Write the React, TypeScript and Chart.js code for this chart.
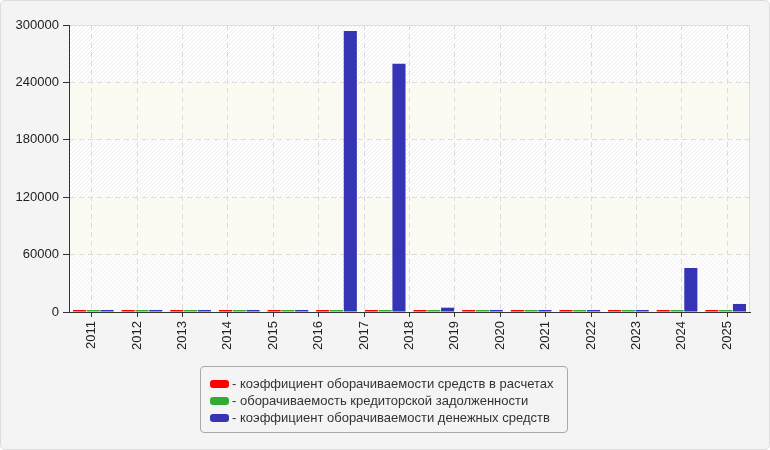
import React, { useEffect, useRef } from "react";
import { Chart, registerables } from "chart.js";

Chart.register(...registerables);

// Tick labels shown on the x axis (15 labels)
const years = ["2011", "2012", "2013", "2014", "2015", "2016", "2017", "2018", "2019", "2020", "2021", "2022", "2023", "2024", "2025"];
// Bar groups actually drawn (14 groups spread over the full width)
const barPeriods = ["2011", "2012", "2013", "2014", "2015", "2016", "2017", "2018", "2019", "2020", "2021", "2022", "2023", "2024"];
const receivablesTurnover = [9, 8, 10, 9, 8, 9, 7, 8, 9, 8, 9, 10, 8, 9];
const payablesTurnover = [7, 8, 7, 8, 9, 7, 8, 7, 8, 9, 7, 8, 7, 8];
const cashTurnover = [600, 500, 700, 400, 300, 293700, 259600, 4500, 2100, 900, 800, 700, 46000, 8400];
const yTicks = [0, 60000, 120000, 180000, 240000, 300000];

const seriesLabels = [
  "коэффициент оборачиваемости средств в расчетах",
  "оборачиваемость кредиторской задолженности",
  "коэффициент оборачиваемости денежных средств",
];
const seriesColors = ["#ff0000", "#33aa33", "#3434b4"];

const FONT = 'Arial, "Liberation Sans", sans-serif';

const bandsPlugin = {
  id: "bands",
  beforeDraw(chart: any) {
    const { ctx, chartArea, scales } = chart;
    const y = scales.y;
    const { left, right, top, bottom } = chartArea;
    ctx.save();
    for (let i = 0; i < yTicks.length - 1; i++) {
      const yb = y.getPixelForValue(yTicks[i]);
      const yt = y.getPixelForValue(yTicks[i + 1]);
      const h = yb - yt;
      ctx.save();
      ctx.beginPath();
      ctx.rect(left, yt, right - left, h);
      ctx.clip();
      const hatched = i % 2 === 0;
      ctx.fillStyle = hatched ? "#ffffff" : "#fcfcf4";
      ctx.fillRect(left, yt, right - left, h);
      ctx.strokeStyle = hatched ? "#ececec" : "#f6f6ec";
      ctx.lineWidth = 1;
      ctx.beginPath();
      for (let k = -h; k < right - left + h; k += 4) {
        ctx.moveTo(left + k, yb);
        ctx.lineTo(left + k + h, yt);
      }
      ctx.stroke();
      ctx.restore();
    }
    ctx.strokeStyle = "#dddddd";
    ctx.lineWidth = 1;
    ctx.beginPath();
    ctx.moveTo(left, top + 0.5);
    ctx.lineTo(right - 0.5, top + 0.5);
    ctx.lineTo(right - 0.5, bottom);
    ctx.stroke();
    ctx.restore();
  },
};

export default function App() {
  const canvasRef = useRef<HTMLCanvasElement | null>(null);

  useEffect(() => {
    document.body.style.margin = "0";
    const canvas = canvasRef.current;
    if (!canvas) return;
    const dataArrays = [receivablesTurnover, payablesTurnover, cashTurnover];
    const chart = new Chart(canvas, {
      type: "bar",
      data: {
        labels: barPeriods,
        datasets: dataArrays.map((d, i) => ({
          label: seriesLabels[i],
          data: d,
          xAxisID: "xb",
          backgroundColor: seriesColors[i],
          borderWidth: 0,
          minBarLength: 2,
          categoryPercentage: 0.85,
          barPercentage: 0.95,
        })),
      },
      options: {
        animation: false,
        responsive: false,
        devicePixelRatio: 1,
        layout: { padding: { top: 25, right: 20, left: 0, bottom: 0 } },
        plugins: {
          legend: { display: false },
          tooltip: { enabled: false },
        },
        scales: {
          xb: {
            type: "category",
            position: "bottom",
            labels: barPeriods,
            offset: true,
            display: false,
          },
          x: {
            type: "category",
            position: "bottom",
            labels: years,
            offset: true,
            afterFit: (scale: any) => {
              scale.height = 138;
            },
            grid: {
              offset: false,
              color: "#dcdcdc",
              tickColor: "#333333",
              tickLength: 5,
            },
            border: { color: "#333333", width: 1, dash: [5, 4] },
            ticks: {
              autoSkip: false,
              minRotation: 90,
              maxRotation: 90,
              padding: 4,
              color: "#222222",
              font: { family: FONT, size: 13 },
            },
          },
          y: {
            min: 0,
            max: 300000,
            afterFit: (scale: any) => {
              scale.width = 69;
            },
            afterBuildTicks: (scale: any) => {
              scale.ticks = yTicks.map((v) => ({ value: v }));
            },
            grid: {
              color: "#dcdcdc",
              tickColor: "#333333",
              tickLength: 6,
            },
            border: { color: "#333333", width: 1, dash: [5, 4] },
            ticks: {
              padding: 4,
              color: "#222222",
              font: { family: FONT, size: 13 },
              callback: (v: any) => String(v),
            },
          },
        },
      },
      plugins: [bandsPlugin],
    });
    return () => chart.destroy();
  }, []);

  return (
    <div
      style={{
        position: "relative",
        width: 770,
        height: 450,
        boxSizing: "border-box",
        background: "#f4f4f4",
        border: "1px solid #dddddd",
        borderRadius: 5,
        overflow: "hidden",
        fontFamily: FONT,
      }}
    >
      <canvas
        ref={canvasRef}
        width={770}
        height={450}
        style={{ position: "absolute", left: -1, top: -1, width: 770, height: 450 }}
      />
      <div
        style={{
          position: "absolute",
          left: 199,
          top: 365,
          width: 368,
          height: 67,
          boxSizing: "border-box",
          border: "1px solid #aaaaaa",
          borderRadius: 4,
          padding: "8px 9px",
          fontSize: 13,
          color: "#333333",
        }}
      >
        {seriesLabels.map((label, i) => (
          <div key={i} style={{ display: "flex", alignItems: "center", height: 17, whiteSpace: "nowrap" }}>
            <span
              style={{
                display: "inline-block",
                width: 19,
                height: 8,
                borderRadius: 3,
                background: seriesColors[i],
                marginRight: 3,
                flexShrink: 0,
              }}
            />
            <span>- {label}</span>
          </div>
        ))}
      </div>
    </div>
  );
}
